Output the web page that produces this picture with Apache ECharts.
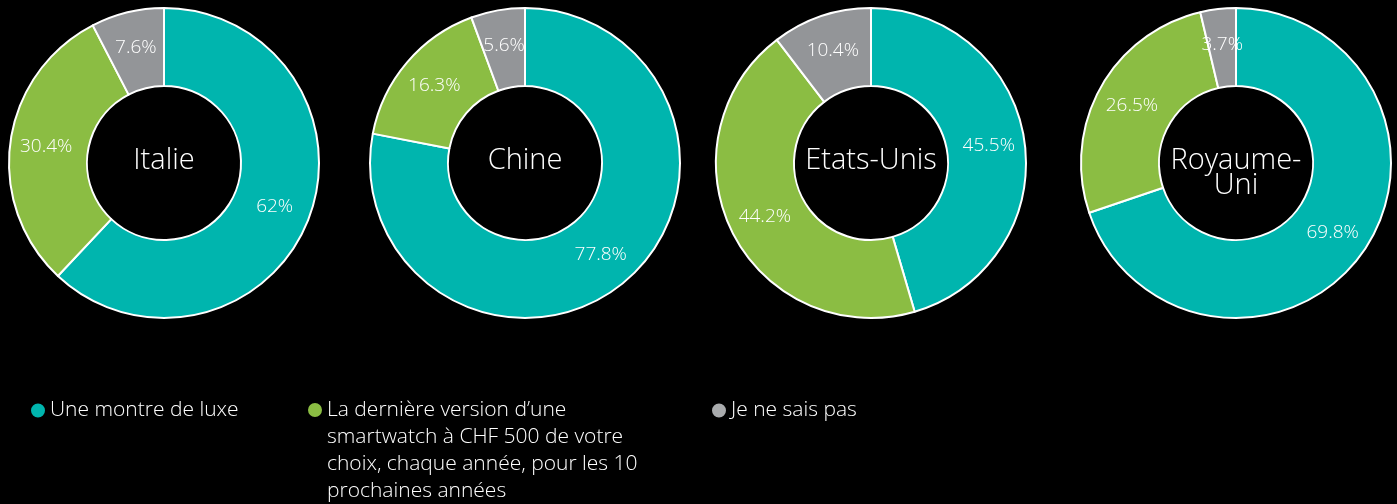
<!DOCTYPE html>
<html>
<head>
<meta charset="utf-8">
<script src="https://cdn.jsdelivr.net/npm/echarts@6/dist/echarts.min.js"></script>
<style>
  html, body { margin: 0; padding: 0; background: #000; }
  #chart { width: 1397px; height: 504px; }
</style>
</head>
<body>
<div id="chart"></div>
<script>
// pays
var countries = ['Italie', 'Chine', 'Etats-Unis', 'Royaume-\nUni'];
// réponses
var answers = ['Une montre de luxe', 'La dernière version d\u2019une smartwatch à CHF 500 de votre choix, chaque année, pour les 10 prochaines années', 'Je ne sais pas'];
var answerLabels = ['Une montre de luxe', 'La dernière version d\u2019une\nsmartwatch à CHF 500 de votre\nchoix, chaque année, pour les 10\nprochaines années', 'Je ne sais pas'];
// valeurs (%) : luxe, smartwatch, ne sait pas
var luxe = [62, 77.8, 45.5, 69.8];
var smartwatch = [30.4, 16.3, 44.2, 26.5];
var nsp = [7.6, 5.6, 10.4, 3.7];

var colors = ['#00b5ae', '#8bbd43', '#939598'];
var legendColors = ['#00b5ae', '#8bbd43', '#a9abad'];
var centersX = [164, 525, 871, 1236];
var centerY = 163;
var font = '"Open Sans", "DejaVu Sans", sans-serif';

var chart = echarts.init(document.getElementById('chart'));

var series = [];
var graphics = [];
for (var i = 0; i < countries.length; i++) {
    series.push({
        name: countries[i],
        type: 'pie',
        center: [centersX[i], centerY],
        radius: [77, 155],
        startAngle: 90,
        clockwise: true,
        avoidLabelOverlap: false,
        animation: false,
        itemStyle: {
            borderColor: '#ffffff',
            borderWidth: 2
        },
        label: {
            show: true,
            position: 'inside',
            formatter: '{c}%',
            color: '#ffffff',
            fontFamily: font,
            fontWeight: 300,
            fontSize: 19
        },
        labelLine: { show: false },
        emphasis: { scale: false },
        data: [
            { name: answers[0], value: luxe[i] },
            { name: answers[1], value: smartwatch[i] },
            { name: answers[2], value: nsp[i] }
        ]
    });
    // nom du pays au centre de l'anneau
    graphics.push({
        type: 'text',
        x: centersX[i],
        y: countries[i].indexOf('\n') >= 0 ? 173 : 161,
        style: {
            text: countries[i],
            fill: '#ffffff',
            font: '300 29px ' + font,
            lineHeight: 25,
            align: 'center',
            verticalAlign: 'middle'
        }
    });
}

// une légende par réponse ; pastille en haut du bloc de texte
var lineH = 27;
var legendLeft = [31, 308, 712];
var legends = [];
for (var j = 0; j < answers.length; j++) {
    var nLines = answerLabels[j].split('\n').length;
    var h = nLines > 1 ? nLines * lineH - 12 : 14;
    legends.push({
        data: [{ name: answers[j], itemStyle: { color: legendColors[j] } }],
        left: legendLeft[j],
        top: 397,
        padding: 0,
        orient: 'vertical',
        icon: 'path://M0,7A7,7,0,1,1,14,7A7,7,0,1,1,0,7ZM0,' + h + 'L14,' + h,
        symbolKeepAspect: false,
        itemWidth: 14,
        itemHeight: h,
        selectedMode: false,
        itemStyle: { borderWidth: 0 },
        formatter: function (name) {
            return answerLabels[answers.indexOf(name)];
        },
        textStyle: {
            color: '#ffffff',
            fontFamily: font,
            fontWeight: 300,
            fontSize: 21,
            lineHeight: lineH
        }
    });
}

chart.setOption({
    backgroundColor: '#000000',
    color: colors,
    tooltip: { show: false },
    legend: legends,
    graphic: graphics,
    series: series
});
</script>
</body>
</html>
